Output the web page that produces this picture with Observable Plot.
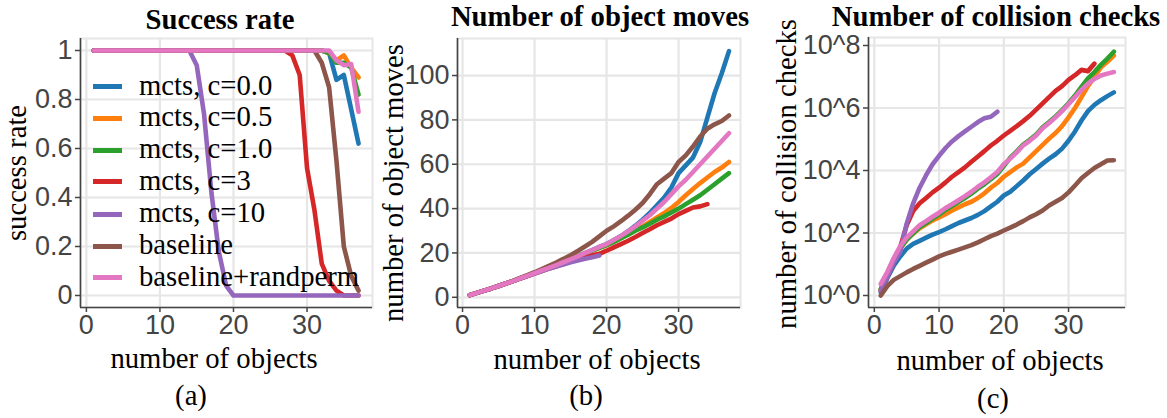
<!DOCTYPE html>
<html><head><meta charset="utf-8">
<script src="https://cdn.jsdelivr.net/npm/d3@7"></script>
<script src="https://cdn.jsdelivr.net/npm/@observablehq/plot@0.6"></script>
<style>
body{margin:0;background:#fff;}
#root{position:relative;width:1167px;height:418px;overflow:hidden;background:#fff;}
.panel{position:absolute;top:0;}
.txt{position:absolute;white-space:nowrap;line-height:1;font-family:"Liberation Serif","Times New Roman",serif;font-size:28.7px;color:#000;}
.bold{font-weight:bold;line-height:0.8;}
.swatch{position:absolute;width:29px;height:5px;}
</style></head><body><div id="root"></div>
<script>
// ---------------- data ----------------
const nObjects = [1,2,3,4,5,6,7,8,9,10,11,12,13,14,15,16,17,18,19,20,21,22,23,24,25,26,27,28,29,30,31,32,33,34,35,36,37];
const seriesNames = ["mcts, c=0.0","mcts, c=0.5","mcts, c=1.0","mcts, c=3","mcts, c=10","baseline","baseline+randperm"];
const seriesColors = ["#1f77b4","#ff7f0e","#2ca02c","#d62728","#9467bd","#8c564b","#e377c2"];
const xTicks = [0,10,20,30];
const successTicks = [0,0.2,0.4,0.6,0.8,1];
const movesTicks = [0,20,40,60,80,100];
const checksTicks = [1,1e2,1e4,1e6,1e8];

// (a) success rate
const successMcts00 = [1,1,1,1,1,1,1,1,1,1, 1,1,1,1,1,1,1,1,1,1, 1,1,1,1,1,1,1,1,1,1, 1,1,0.99,0.88,0.9,0.76,0.62];
const successMcts05 = [1,1,1,1,1,1,1,1,1,1, 1,1,1,1,1,1,1,1,1,1, 1,1,1,1,1,1,1,1,1,1, 1,1,0.99,0.96,0.98,0.93,0.89];
const successMcts10 = [1,1,1,1,1,1,1,1,1,1, 1,1,1,1,1,1,1,1,1,1, 1,1,1,1,1,1,1,1,1,1, 1,1,0.99,0.95,0.95,0.93,0.82];
const successMcts3  = [1,1,1,1,1,1,1,1,1,1, 1,1,1,1,1,1,1,1,1,1, 1,1,1,1,1,1,1,0.98,0.9,0.52, 0.35,0.13,0.06,0.02,0,0,0];
const successMctsC10= [1,1,1,1,1,1,1,1,1,1, 1,1,1,1,0.94,0.74,0.42,0.18,0.04,0, 0,0,0,0,0,0,0,0,0,0, 0,0,0,0,0,0,0];
const successBaseline=[1,1,1,1,1,1,1,1,1,1, 1,1,1,1,1,1,1,1,1,1, 1,1,1,1,1,1,1,1,1,1, 1,0.95,0.85,0.55,0.2,0.08,0.02];
const successRandperm=[1,1,1,1,1,1,1,1,1,1, 1,1,1,1,1,1,1,1,1,1, 1,1,1,1,1,1,1,1,1,1, 1,1,1,0.96,0.94,0.945,0.75];

// (b) number of object moves
const movesMcts00 = [1,2,3,4,5.1,6.2,7.3,8.5,9.7,10.9, 12.1,13.3,14.5,15.8,17.1,18.5,19.9,21.3,22.7,24, 25.7,27.6,29.8,32.3,35,38,41.5,45,49.5,56, 59.5,63,70,81,92,101,111];
const movesMcts05 = [1,2,3,4,5.1,6.2,7.3,8.5,9.7,10.9, 12.1,13.3,14.5,15.8,17.1,18.4,19.7,21,22.3,23.5, 25,26.6,28.4,30.3,32,34,36,38,40.3,43, 46,48.8,51.5,54,56.5,58.5,61];
const movesMcts10 = [1,2,3,4,5.1,6.2,7.3,8.5,9.7,10.9, 12.1,13.3,14.5,15.8,17.1,18.4,19.7,21,22.3,23.5, 25,26.6,28.2,30,31.5,33.2,35,36.5,38.2,40, 42,44,46,48.5,51,53.5,56];
const movesMcts3  = [1,2,3,4,5.1,6.2,7.3,8.5,9.6,10.7, 11.8,12.9,14,15.1,16.1,17.1,18,18.8,19.6,21, 22.5,24,25.5,27.2,29,30.7,32.5,34,35.5,37.5, 39,40.5,41,42];
const movesMctsC10= [1,2,3,4,5.1,6.2,7.3,8.5,9.6,10.7, 11.8,12.9,13.9,14.8,15.8,16.6,17.4,18.1,18.8];
const movesBaseline=[1,2,3,4,5.1,6.2,7.4,8.7,10,11.3, 12.7,14.2,15.7,17.3,19,20.9,22.9,25,27.5,30, 32,34.3,36.8,39.5,42.5,46.5,51,53.5,56,61, 64,68,72.5,76,78,79.5,82];
const movesRandperm=[1,2,3,4,5.1,6.2,7.3,8.5,9.7,10.9, 12.1,13.3,14.5,15.8,17.1,18.5,19.9,21.3,22.7,24, 25.8,27.7,29.8,32,34.5,37,40,43,46.5,50, 53,56.5,60,63.5,67,70.5,74];

// (c) number of collision checks, stored as log10 exponents
const checksLog10Mcts00 = [0.1,0.55,0.95,1.25,1.5,1.65,1.75,1.85,1.95,2.03, 2.12,2.22,2.32,2.4,2.48,2.58,2.7,2.85,3.0,3.2, 3.32,3.5,3.68,3.88,4.05,4.22,4.38,4.52,4.7,4.95, 5.25,5.6,5.9,6.1,6.25,6.38,6.5];
const checksLog10Mcts05 = [0.2,0.65,1.1,1.5,1.78,1.98,2.15,2.28,2.4,2.5, 2.6,2.72,2.82,2.92,3.0,3.12,3.27,3.45,3.6,3.8, 3.95,4.1,4.22,4.42,4.62,4.82,5.02,5.2,5.42,5.7, 6.0,6.35,6.7,7.0,7.3,7.48,7.68];
const checksLog10Mcts10 = [0.2,0.69,1.14,1.52,1.79,1.99,2.19,2.32,2.46,2.59, 2.74,2.86,2.99,3.12,3.26,3.42,3.56,3.72,3.89,4.14, 4.41,4.61,4.83,4.98,5.15,5.38,5.55,5.73,5.93,6.15, 6.4,6.68,6.95,7.15,7.38,7.58,7.8];
const checksLog10Mcts3  = [0.15,0.6,1.05,1.55,2.25,2.7,2.95,3.12,3.3,3.45, 3.62,3.8,3.95,4.1,4.28,4.45,4.62,4.8,4.95,5.12, 5.27,5.42,5.58,5.75,5.95,6.15,6.35,6.55,6.7,6.9, 7.05,7.22,7.18,7.42];
const checksLog10MctsC10= [0.15,0.6,1.05,1.4,2.3,2.95,3.45,3.85,4.2,4.47, 4.72,4.93,5.1,5.25,5.4,5.55,5.67,5.72,5.88];
const checksLog10Baseline=[0,0.3,0.5,0.62,0.74,0.85,0.95,1.05,1.15,1.25, 1.33,1.4,1.47,1.54,1.61,1.7,1.8,1.9,1.98,2.08, 2.17,2.27,2.38,2.5,2.6,2.72,2.88,3.0,3.12,3.3, 3.52,3.75,3.92,4.08,4.2,4.32,4.33];
const checksLog10Randperm=[0.37,0.75,1.2,1.58,1.85,2.05,2.25,2.38,2.52,2.65, 2.8,2.92,3.05,3.18,3.32,3.48,3.62,3.78,3.95,4.2, 4.38,4.58,4.8,4.95,5.12,5.35,5.52,5.7,5.9,6.12, 6.35,6.58,6.78,6.93,7.04,7.1,7.15];

// ---------------- helpers ----------------
function table(arrays, tf) {
  const rows = [];
  arrays.forEach((arr, i) => arr.forEach((v, j) => rows.push({n: nObjects[j], v: tf ? tf(v) : v, series: seriesNames[i]})));
  return rows;
}
const successRows = table([successMcts00,successMcts05,successMcts10,successMcts3,successMctsC10,successBaseline,successRandperm]);
const movesRows = table([movesMcts00,movesMcts05,movesMcts10,movesMcts3,movesMctsC10,movesBaseline,movesRandperm]);
const checksRows = table([checksLog10Mcts00,checksLog10Mcts05,checksLog10Mcts10,checksLog10Mcts3,checksLog10MctsC10,checksLog10Baseline,checksLog10Randperm], e => Math.pow(10, e));

const GRID = "#e6e6e6", AXIS = "#444";
const root = document.getElementById("root");

function panel({left, width, height, mL, mR, mT, mB, xDomain, yScale, yTicks, yFmt, rows}) {
  const p = Plot.plot({
    width, height, marginLeft: mL, marginRight: mR, marginTop: mT, marginBottom: mB,
    style: {fontFamily: '"Liberation Sans", Arial, sans-serif', fontSize: "27px", color: AXIS, background: "transparent", overflow: "visible"},
    x: {domain: xDomain},
    y: yScale,
    color: {domain: seriesNames, range: seriesColors},
    marks: [
      Plot.frame({stroke: GRID, strokeWidth: 2}),
      Plot.gridX(xTicks, {stroke: GRID, strokeOpacity: 1, strokeWidth: 2.2}),
      Plot.gridY(yTicks, {stroke: GRID, strokeOpacity: 1, strokeWidth: 2.2}),
      Plot.axisX(xTicks, {tickSize: 5, tickPadding: 2, label: null, strokeWidth: 1.5, tickFormat: d => String(d)}),
      Plot.axisY(yTicks, {tickSize: 5, tickPadding: 3, label: null, strokeWidth: 1.5, tickFormat: yFmt}),
      Plot.ruleX([xDomain[0]], {stroke: AXIS, strokeWidth: 1.6}),
      Plot.ruleY([yScale.domain[0]], {stroke: AXIS, strokeWidth: 1.6}),
      Plot.line(rows, {x: "n", y: "v", stroke: "series", strokeWidth: 4.6, strokeLinejoin: "round"})
    ]
  });
  p.classList.add("panel");
  p.style.left = left + "px";
  root.appendChild(p);
}

panel({left: 0, width: 390, height: 340, mL: 80, mR: 18, mT: 38, mB: 33,
  xDomain: [-0.8, 38.9], yScale: {domain: [-0.049, 1.049]}, yTicks: successTicks, yFmt: d => String(d), rows: successRows});
panel({left: 380, width: 380, height: 340, mL: 77, mR: 20, mT: 38, mB: 33,
  xDomain: [-0.7, 38.6], yScale: {domain: [-4.6, 116.7]}, yTicks: movesTicks, yFmt: d => String(d), rows: movesRows});
panel({left: 770, width: 397, height: 340, mL: 98, mR: 42, mT: 37, mB: 33,
  xDomain: [-0.9, 38.8], yScale: {type: "log", domain: [Math.pow(10, -0.384), Math.pow(10, 8.256)]}, yTicks: checksTicks,
  yFmt: d => "10^" + Math.round(Math.log10(d)), rows: checksRows});

// ---------------- text ----------------
const ASC = 24.0;       // baseline offset for 28.7px serif, line-height 1
const ASC_TITLE = 21.2; // baseline offset for 28.7px serif, line-height 0.8
function label(text, cx, baseline, cls) {
  const d = document.createElement("div");
  d.className = "txt" + (cls ? " " + cls : "");
  d.textContent = text;
  d.style.left = cx + "px";
  d.style.top = (baseline - (cls === "bold" ? ASC_TITLE : ASC)) + "px";
  d.style.transform = "translateX(-50%)";
  root.appendChild(d);
}
function vlabel(text, cx, cy) {
  const d = document.createElement("div");
  d.className = "txt";
  d.textContent = text;
  d.style.left = cx + "px";
  d.style.top = cy + "px";
  d.style.transform = "translate(-50%,-50%) rotate(-90deg)";
  root.appendChild(d);
}
label("Success rate", 220, 29, "bold");
label("Number of object moves", 600, 26, "bold");
label("Number of collision checks", 996, 26, "bold");
label("number of objects", 214, 368);
label("number of objects", 597, 369);
label("number of objects", 1000, 370);
label("(a)", 191, 405);
label("(b)", 586, 405);
label("(c)", 993, 408);
vlabel("success rate", 16.4, 173);
vlabel("number of object moves", 393.4, 182.5);
vlabel("number of collision checks", 786.4, 174);

// legend (panel a)
const legendY = [86.7, 118.3, 150, 181.7, 214, 246, 277.7];
seriesNames.forEach((name, i) => {
  const s = document.createElement("div");
  s.className = "swatch";
  s.style.left = "93px";
  s.style.top = (legendY[i] - 2.5) + "px";
  s.style.background = seriesColors[i];
  root.appendChild(s);
  const t = document.createElement("div");
  t.className = "txt";
  t.textContent = name;
  t.style.left = "139px";
  t.style.top = (legendY[i] + 8 - ASC) + "px";
  root.appendChild(t);
});
</script></body></html>
